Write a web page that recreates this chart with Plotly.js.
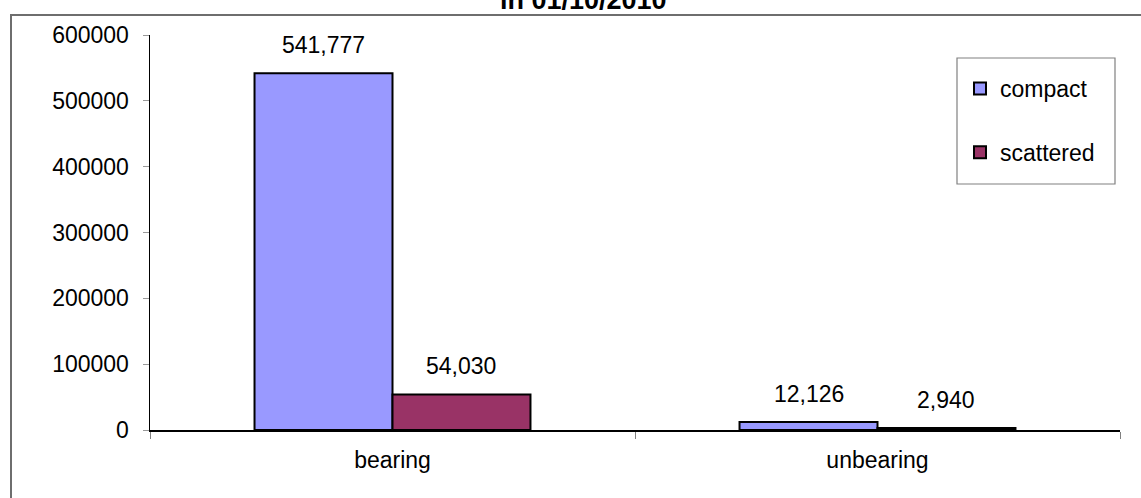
<!DOCTYPE html>
<html>
<head>
<meta charset="utf-8">
<script src="https://cdn.plot.ly/plotly-3.0.1.min.js"></script>
<style>html,body{margin:0;padding:0;background:#fff;}#chart{width:1141px;height:498px;}</style>
</head>
<body>
<div id="chart"></div>
<script>
// ---- data ----
const categories = ["bearing", "unbearing"];
const compactValues = [541777, 12126];
const scatteredValues = [54030, 2940];
const seriesNames = ["compact", "scattered"];
const titleText = "in 01/10/2010";
const yTickValues = [0, 100000, 200000, 300000, 400000, 500000, 600000];

// ---- layout helpers ----
const W = 1141, H = 498;
const M = {l: 150, r: 21, t: 35, b: 68};
const PW = W - M.l - M.r, PH = H - M.t - M.b;
const px = x => (x - M.l) / PW;
const py = y => (H - M.b - y) / PH;
const FONT = "Liberation Sans, Arial, sans-serif";
const bargap = 0.431;
const half = (1 - bargap) / 4;

const traces = [
  {type: "bar", name: seriesNames[0], x: categories, y: compactValues,
   marker: {color: "#9999FF", line: {color: "#000", width: 2}}, legendgroup: "a", hoverinfo: "y"},
  {type: "bar", name: seriesNames[1], x: categories, y: scatteredValues,
   marker: {color: "#993366", line: {color: "#000", width: 2}}, legendgroup: "b", hoverinfo: "y"}
];

const annotations = [];
[compactValues, scatteredValues].forEach((vals, s) => {
  vals.forEach((v, i) => {
    annotations.push({
      x: i + (s === 0 ? -half : half), y: v, xref: "x", yref: "y",
      text: v.toLocaleString("en-US"), showarrow: false,
      yanchor: "bottom", yshift: 13,
      font: {family: FONT, size: 23, color: "#000"}
    });
  });
});
annotations.push({
  x: px(583), y: py(0), xref: "paper", yref: "paper",
  text: "<b>" + titleText + "</b>", showarrow: false, yanchor: "middle",
  font: {family: FONT, size: 27, color: "#000"}
});

const layout = {
  width: W, height: H,
  margin: M,
  paper_bgcolor: "#fff", plot_bgcolor: "#fff",
  font: {family: FONT, size: 23, color: "#000"},
  barmode: "group", bargap: bargap, bargroupgap: 0,
  showlegend: true,
  legend: {x: px(960), y: py(67), xanchor: "left", yanchor: "top",
           bgcolor: "rgba(0,0,0,0)", borderwidth: 0, tracegroupgap: 31,
           font: {family: FONT, size: 23, color: "#000"}},
  xaxis: {type: "category", range: [-0.5, 1.5], showline: true, linecolor: "#000", linewidth: 1.5,
          ticks: "outside", tickson: "boundaries", ticklen: 7, tickcolor: "#808080",
          ticklabelstandoff: 9,
          showgrid: false, zeroline: false, tickfont: {family: FONT, size: 23, color: "#000"}},
  yaxis: {range: [0, 600000], tickvals: yTickValues, tickformat: "d", showline: true,
          linecolor: "#000", linewidth: 1.5, ticks: "outside", ticklen: 6, tickcolor: "#999",
          ticklabelstandoff: 9, showgrid: false, zeroline: false,
          tickfont: {family: FONT, size: 23, color: "#000"}},
  shapes: [
    {type: "rect", xref: "paper", yref: "paper", x0: px(11), x1: px(1160), y0: py(520), y1: py(15),
     line: {color: "#6e6e6e", width: 2}, fillcolor: "rgba(0,0,0,0)", layer: "below"},
    {type: "rect", xref: "paper", yref: "paper", x0: px(957), x1: px(1115), y0: py(184), y1: py(58),
     line: {color: "#808080", width: 1.2}, fillcolor: "rgba(0,0,0,0)", layer: "below"}
  ],
  annotations: annotations
};

Plotly.newPlot("chart", traces, layout, {displayModeBar: false, staticPlot: true});
</script>
</body>
</html>
